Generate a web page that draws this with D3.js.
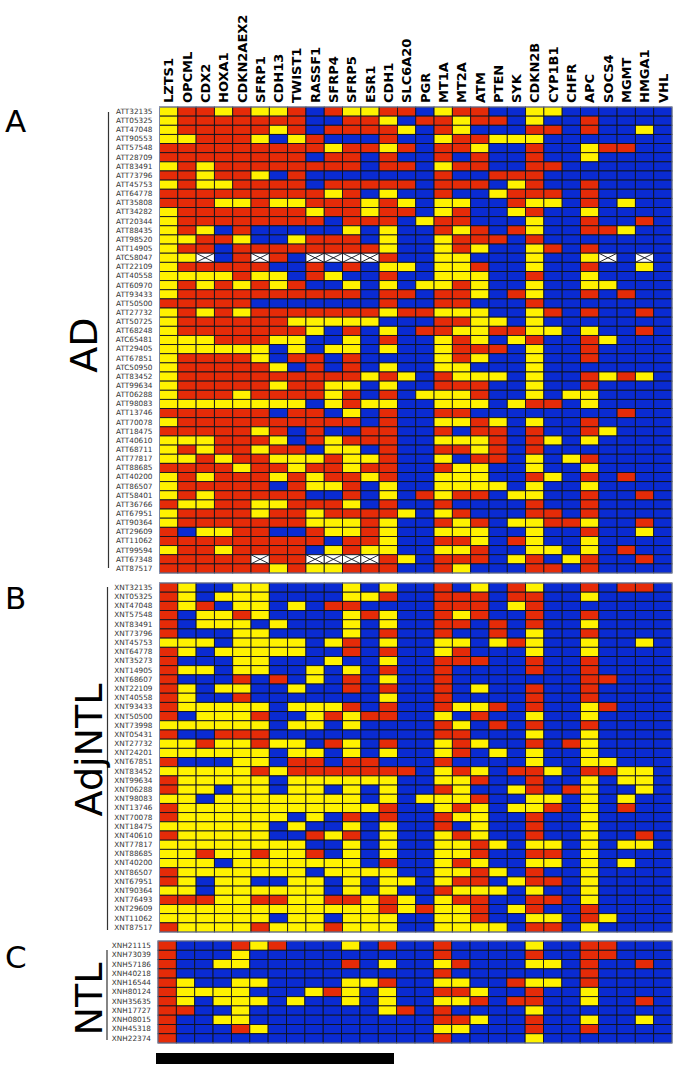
<!DOCTYPE html>
<html><head><meta charset="utf-8">
<style>html,body{margin:0;padding:0;background:#fff}svg{display:block}text{font-family:"DejaVu Sans",sans-serif}</style>
<script src="https://cdn.jsdelivr.net/npm/d3@7/dist/d3.min.js"></script>
</head><body><div id="c"></div>
<script>
const genes=["LZTS1","OPCML","CDX2","HOXA1","CDKN2AEX2","SFRP1","CDH13","TWIST1","RASSF1","SFRP4","SFRP5","ESR1","CDH1","SLC6A20","PGR","MT1A","MT2A","ATM","PTEN","SYK","CDKN2B","CYP1B1","CHFR","APC","SOCS4","MGMT","HMGA1","VHL"];
// Cell states: Y yellow, R red, B blue, X not available
const samplesA=["ATT32135","ATT05325","ATT47048","ATT90553","ATT57548","ATT28709","ATT83491","ATT73796","ATT45753","ATT64778","ATT35808","ATT34282","ATT20344","ATT88435","ATT98520","ATT14905","ATC58047","ATT22109","ATT40558","ATT60970","ATT93433","ATT50500","ATT27732","ATT50725","ATT68248","ATC65481","ATT29405","ATT67851","ATC50950","ATT83452","ATT99634","ATT06288","ATT98083","ATT13746","ATT70078","ATT18475","ATT40610","ATT68711","ATT77817","ATT88685","ATT40200","ATT86507","ATT58401","ATT36766","ATT67951","ATT90364","ATT29609","ATT11062","ATT99594","ATT67348","ATT87517"];
const statesA=[
"YRRYRYYRBRYYRRBYRRBBYYBBBBBB",
"YRRRRRRRBBRRYBRRYRRBYBBRBBBB",
"YRRRRRYRBRRRRYBRYBBBRRBRBBYB",
"YYRRRYBYRBBBRBBYRRYYYBBBBBBB",
"RRRRRRRRRYRRYRBRRYBBRBBYRRBB",
"RRRRRRRRBRRBRBBRBRBBRBBYBBBB",
"YRYRRRRRRRRBRRBYRRBBRRBBBBBB",
"RRYRRYBRBBBBBBBRBBRRRBBBBBBB",
"YRYYRRRRBRRRRRBRRRBYRBBRBBBB",
"RRRRRRRRRYRBYBBRBBYRRRBRBBBB",
"RRRYYRYYRRRYRYBYYBBRYYBRBYBB",
"YRRRRRRRYRRYRRBYRBBYRBBYBBBB",
"YRRRRRRRRBRRRBYRRBBBYBBRBBRB",
"YRYBRBBBBBYBYBBRYRBRYBBRRYBB",
"YYRRYBBYRRRBYBBYRRRBRBBBBBBB",
"YRRBRRRRRRRRYBBYRYBBYRBRBBBB",
"YYXBRXRBXXXXRBBYYBBBYBBYXBXB",
"YRRRRRBBRBRBYYBYYRBBYBBRBBYB",
"YYYYRYYBRYBBRBBYYYBBRBBYBBBB",
"YRYRYRYRBBYBYBYYRYBBYBBYYBBB",
"YRRRRRRRRRRBRRBRRYBRYBBRBRBB",
"RRRRRBBBBBBBRBBRRBBBRBBBBBBB",
"YRYRYRRRRRRRYRRYYYBBYRBRBBRB",
"YRRRRRRYYYYYBBBRRYYBYBBBBBBB",
"YRRRRRRRYBRBYBRRYYRRYYBYBBRB",
"YYYRRRYYBBYBRBBYRYBYRBBRYBBB",
"YYYYYYBYBYYBYBBYRRRBYBBRBBBB",
"YRRRRYBRRBRBBBBYRYBBYBBRBBBB",
"YRRRRRYBRBRBYBBYYBBBYBBBBBBB",
"YRRRRRRRRRRYRYBRYYYBYBBRYRYB",
"YRRRRRYRRYYBYBBRRRBBYBBRBBBB",
"YRRRYRRRRYRBRBYYYRBBYBYYBBBB",
"YYYYYYYYBYRYYBBYYYBYRRBYBBBB",
"RRRRRRBRRBYBRBBRRBBBBBBBBRBB",
"YRRRRRRRRRRBRBBYYRYBYBBRBBBB",
"RRRRRYRBRBBRRBBRBRRBRBBRYBBB",
"YYYRRRYBRYRRRBBYYYRBRYBYBBBB",
"YRYRRYRRBYYBRBBRRYRBRBBBBBBB",
"YYRYRRYYYRYYRBBYBRRBYBYRBBBB",
"RRRRYRRYRRYRRBBRYYBBYBBYBBBB",
"YRYRRRYRYRRYRBBYYYBBRYBRBRBB",
"YRRRRRBRYYRBYBBYYYYBYBBYBBBB",
"YRYRRRRRBBRBYBRYRRBYYBBRBBRB",
"RYYRRYYRRRYBRBBRBBBBRBBRBBBB",
"YRRRRYRRYRRRRYBYRBBBRRBRBBBB",
"YRRRRRRRYYYRYBBRYRBYYRRYBBRB",
"RBYYRRBBRYYRYBBYYYBBYBBRBBYB",
"RRRRRRRRRBRRYBBRRYBRYBBYBBBB",
"YRRYRRRRBYRYYBBYYRBBYYBYBRBB",
"RRRRRXRRXXXXRYBRRRBYRBYRBBRB",
"RRRRRRYRYYRRRBBRYBBBRRBRBBBB"];
const samplesB=["XNT32135","XNT05325","XNT47048","XNT57548","XNT83491","XNT73796","XNT45753","XNT64778","XNT35273","XNT14905","XNT68607","XNT22109","XNT40558","XNT93433","XNT50500","XNT73998","XNT05431","XNT27732","XNT24201","XNT67851","XNT83452","XNT99634","XNT06288","XNT98083","XNT13746","XNT70078","XNT18475","XNT40610","XNT77817","XNT88685","XNT40200","XNT86507","XNT67951","XNT90364","XNT76493","XNT29609","XNT11062","XNT87517"];
const statesB=[
"RYBBYYBBBBYBYBBRBYBRYBBRBRRB",
"RYBYYYBBBBYYRBBRRRBRRBBYBBBB",
"RYRBYYBYBRRBBBBRRRBYRBBBBBBB",
"RBYYRYBBBBYRYBBRYRBBRBBRBBBB",
"RBYYYBYBBBYBYBBRRBRBRBBYBBBB",
"RBBBYYBBBBYBRBBRBBRBYBBRBBBB",
"YYYBYYYYBYRBYBBYYBYRYBBYBBYB",
"RYBYYYYYBBRBRBBYRBBBYBBYBBBB",
"RBBBYYBBBYBBYBBRRRBBRBBRBBBB",
"RYYBYYBBYBYBRBBRBBBBRBBRBBBB",
"RBBBRBRBYBRBYBBRBBBBBBBRRBBB",
"RYBYYBBYBBRBRBBRBYBBRBBRBBBB",
"RYBBRBBBBBBBYBBRBBBBRBBRBBBB",
"RYYYYYBYYYRBRBBRYYRBRBBYRBBB",
"RBYYYRBBYRYRRBBYBRBBYBBYBBBB",
"YYYYYYBYYBYBBBBRYBRBRBBRBBBB",
"RBBRRRBBBBBBBBBRRBBBYBBYBBBB",
"YYRYYRYYBRYBRBBYRYBBRBRYBBBB",
"YYYYYYBYYBYBYBBYRBYBYBBYBBBB",
"RBBBYYBRRBRRBBBRBBBBYBBYYBBB",
"YYYYYRYRRRRRRRBYRYBRRYBRRYYB",
"RYYYYYBYYYYYYBBYYRBBRBBYBYYB",
"RYYBYYBYYBYBYBBRYBBYRBRYBBYB",
"YYBYYYYYYYYBYBYYYRBBYYBYBYBB",
"RYYYYYYYYYYYRBBYRYBYYRBYBRBB",
"RYYYYYYBYBRBRBBRYYBBRBBYBBBB",
"YYYYYYBYBBYBYBBRBYBBRBBYBBBB",
"RYYYYYBBRYRBYBBYRYBBRBBYBBRB",
"YYYYYYYYBBYBYBBYYRYBYYBYBYYB",
"YYRYYRYYRBYBYBBYYRBBRRBYBBBB",
"YYYBYYYYYYYBRBBYRYBBYYBYBYBB",
"RYYYYYYYBYYYYBBYYRYBRBBYBBBB",
"RYBYYBBYYBYBYYBYRRBYRRBYBBBB",
"YYBYYYYYYBYBYBBRYYYBYBBYBBBB",
"RRRYYRRYYRRYRYBYRRBBRRBYBBBB",
"YYYYYYYYYYYYRYRYYRBYRBBRBBBB",
"YYYYYYBYYBYYYBBYYRBBYYBRYBBB",
"RYYYYRYYYRYYYBBYYYYBRRBYBBBB"];
const samplesC=["XNH21115","XNH73039","XNH57186","XNH40218","XNH16544","XNH80124","XNH35635","XNH17727","XNH08015","XNH45318","XNH22374"];
const statesC=[
"RBBBRYRBBBYBRBBRBBBBYBBRRBBB",
"RBBBYBBBBBBBBBBRBBBBRBBRRBBB",
"RBBYYBBBBBRBYBBYRBBBYYBRBBRB",
"RBBBBBBBBBBBBBBRBBBBBBBRBBBB",
"RYBBYYBBBBYYRBBYYBBRYYBRBBBB",
"RYYYYBBBYRYBYBBRRYBBRBBYBBBB",
"RYBYYYBYBBYBYBBYYRBRRBBYBBRB",
"RRBBYBBBBBBBYRBRBBBBYBBBBBBB",
"RBBYYBBBBBBBBBBRRYBBRBBYBBYB",
"RBBBRYBBBBBBBBBYYBBBRBBRBBBB",
"RBBBBBBBBBBBBBBRBBBBYBBBBBBB"];
const stateKeys=["Y","R","B","X"];
const stateColors=["#fff200","#e52b08","#0a2bd2","#ffffff"];
const panelLetters=["A","B","C"];
const groupNames=["AD","AdjNTL","NTL"];

const W=685,H=1074;
const svg=d3.select("#c").append("svg").attr("width",W).attr("height",H);
const color=d3.scaleOrdinal(stateKeys,stateColors);

const panels=[
 {samples:samplesA,states:statesA,left:159.5,right:672,top:107,bottom:573,letterY:132,groupX:97,groupY:345,groupSize:38,line:[112,568],lineX:108.5},
 {samples:samplesB,states:statesB,left:159.5,right:672,top:583,bottom:932,letterY:609,groupX:102,groupY:750,groupSize:38,line:[587,930],lineX:107.5},
 {samples:samplesC,states:statesC,left:158,right:672,top:941,bottom:1043,letterY:968,groupX:102,groupY:999,groupSize:38,line:[950,1040],lineX:107}
];

panels.forEach((p,i)=>{
  const x=d3.scaleBand().domain(genes).range([p.left,p.right]);
  const y=d3.scaleBand().domain(p.samples).range([p.top,p.bottom]);
  const g=svg.append("g");
  const cells=p.samples.flatMap((s,r)=>genes.map((gn,c)=>({s,gn,v:p.states[r][c]})));
  g.selectAll("rect").data(cells).join("rect")
    .attr("x",d=>x(d.gn)).attr("y",d=>y(d.s))
    .attr("width",x.bandwidth()).attr("height",y.bandwidth())
    .attr("fill",d=>color(d.v)).attr("stroke","#10131f").attr("stroke-width",0.9);
  const crossed=cells.filter(d=>d.v==="X");
  g.selectAll("path.x").data(crossed).join("path").attr("class","x")
    .attr("d",d=>{const a=x(d.gn),b=y(d.s),w=x.bandwidth(),h=y.bandwidth();
      const pth=d3.path();pth.moveTo(a,b);pth.lineTo(a+w,b+h);pth.moveTo(a+w,b);pth.lineTo(a,b+h);return pth.toString();})
    .attr("stroke","#10131f").attr("stroke-width",0.9).attr("fill","none");
  // outer frame tint
  g.append("rect").attr("x",p.left).attr("y",p.top).attr("width",p.right-p.left).attr("height",p.bottom-p.top)
    .attr("fill","none").attr("stroke","#8f9dc4").attr("stroke-width",0.8);
  // sample labels
  const rowAxis=d3.axisLeft(y).tickSize(0).tickPadding(0);
  const ax=g.append("g").attr("transform",`translate(${p.left-7},0)`).call(rowAxis);
  ax.select(".domain").remove();
  ax.selectAll("text").attr("fill","#333").style("font-size","7.3px").style("font-family","'DejaVu Sans',sans-serif");
  // bracket line
  svg.append("line").attr("x1",p.lineX).attr("x2",p.lineX).attr("y1",p.line[0]).attr("y2",p.line[1])
    .attr("stroke","#333").attr("stroke-width",1.2);
  // panel letter
  svg.append("text").attr("x",5).attr("y",p.letterY).text(panelLetters[i])
    .style("font-size","31px").attr("fill","#000");
  // group name
  svg.append("text").attr("transform",`translate(${p.groupX},${p.groupY}) rotate(-90)`)
    .attr("text-anchor","middle").text(groupNames[i]).style("font-size",p.groupSize+"px").attr("fill","#000");
  if(i===0){
    const topAxis=d3.axisTop(x).tickSize(0).tickPadding(0);
    const t=svg.append("g").attr("transform",`translate(0,${p.top-4})`).call(topAxis);
    t.select(".domain").remove();
    t.selectAll("text").attr("transform","rotate(-90)").attr("text-anchor","start")
      .attr("x",0).attr("y",0).attr("dy","0.36em").attr("dx",0)
      .attr("fill","#000").style("font-size","13px").style("font-weight","bold").style("font-family","'DejaVu Sans',sans-serif");
  }
});
// Scale bar
const barScale=d3.scaleLinear().domain([0,1]).range([156,394]);
svg.append("rect").attr("x",barScale(0)).attr("y",1053).attr("width",barScale(1)-barScale(0)).attr("height",11).attr("fill","#000");
</script></body></html>
